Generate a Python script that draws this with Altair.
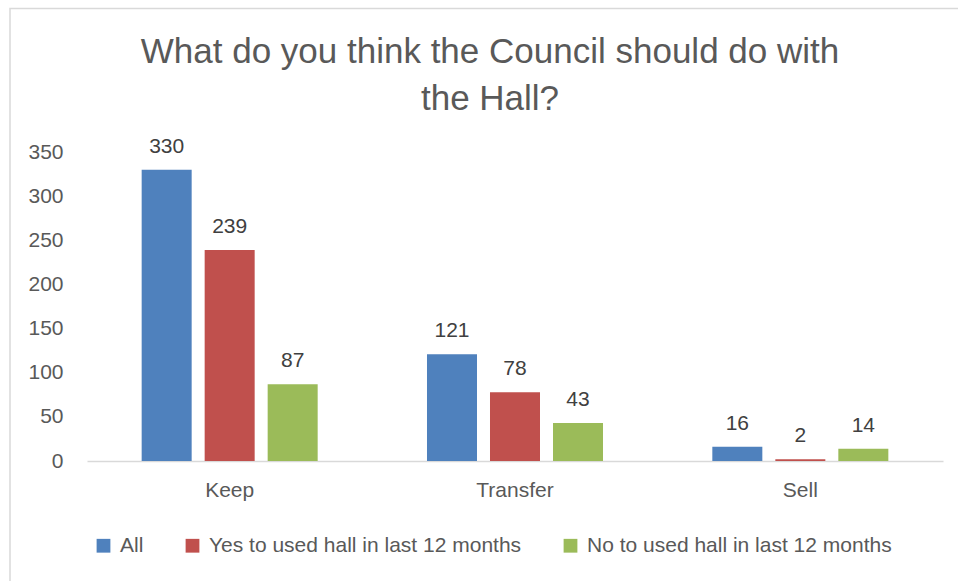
import altair as alt
import pandas as pd

categories = ["Keep", "Transfer", "Sell"]
series = ["All", "Yes to used hall in last 12 months", "No to used hall in last 12 months"]
all_vals = [330, 121, 16]
yes_vals = [239, 78, 2]
no_vals = [87, 43, 14]
colors = ["#4F81BD", "#C0504D", "#9BBB59"]
y_ticks = [0, 50, 100, 150, 200, 250, 300, 350]
title_lines = ["What do you think the Council should do with", "the Hall?"]

rows = []
for s, vals in zip(series, [all_vals, yes_vals, no_vals]):
    for c, v in zip(categories, vals):
        rows.append({"Category": c, "Series": s, "Value": v})
df = pd.DataFrame(rows)

FONT = "Liberation Sans"
FS = 21

x_enc = alt.X("Category:N", sort=categories,
              scale=alt.Scale(paddingInner=0, paddingOuter=0),
              axis=alt.Axis(title=None, labelAngle=0, ticks=False, domain=True,
                            domainColor="#D9D9D9", domainWidth=1.5,
                            labelFontSize=FS, labelColor="#595959", labelFont=FONT,
                            labelPadding=18))
xoff = alt.XOffset("Series:N", sort=series,
                   scale=alt.Scale(paddingInner=0.2063, paddingOuter=0.8676))
y_enc = alt.Y("Value:Q", scale=alt.Scale(domain=[0, 350], nice=False),
              axis=alt.Axis(title=None, values=y_ticks, grid=False, ticks=False,
                            domain=False, labelFontSize=FS, labelColor="#595959",
                            labelFont=FONT, labelPadding=24))

bars = alt.Chart(df).mark_bar().encode(
    x=x_enc, xOffset=xoff, y=y_enc,
    color=alt.Color("Series:N", sort=series,
                    scale=alt.Scale(domain=series, range=colors),
                    legend=alt.Legend(title=None, orient="none", direction="horizontal",
                                      legendX=6, legendY=383, symbolType="square",
                                      symbolSize=190, symbolStrokeWidth=0,
                                      labelFontSize=FS, labelColor="#595959",
                                      labelFont=FONT, labelOffset=6, labelLimit=0,
                                      columnPadding=38, padding=0))
)

labels = alt.Chart(df).mark_text(baseline="alphabetic", dy=-17, fontSize=FS,
                                 color="#404040", font=FONT).encode(
    x=alt.X("Category:N", sort=categories), xOffset=alt.XOffset("Series:N", sort=series),
    y="Value:Q", text="Value:Q"
)

border = alt.Chart(pd.DataFrame({"k": [0]})).mark_rect(
    fill=None, stroke="#D9D9D9", strokeWidth=1.5
).encode(x=alt.value(-77), x2=alt.value(950), y=alt.value(-143.5), y2=alt.value(600))

title = alt.Chart(pd.DataFrame({"t": ["\n".join(title_lines)]})).mark_text(
    fontSize=35, font=FONT, color="#595959", align="center", baseline="alphabetic",
    lineBreak="\n", lineHeight=47
).encode(x=alt.value(403), y=alt.value(-89), text="t:N")

chart = alt.layer(border, bars, labels, title).properties(
    width=856, height=309,
    autosize=alt.AutoSizeParams(type="none"),
    padding={"left": 87, "top": 152, "right": 15, "bottom": 120},
).configure_view(stroke=None)

chart.save("out.html", embed_options={"renderer": "svg", "actions": False})
